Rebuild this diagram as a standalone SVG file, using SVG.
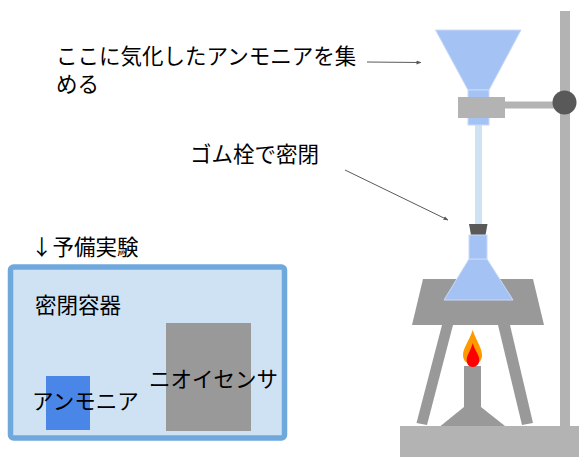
<svg xmlns="http://www.w3.org/2000/svg" width="579" height="457" viewBox="0 0 579 457">
  <defs>
    <marker id="arrow" viewBox="0 0 10 10" refX="9" refY="5" markerWidth="5" markerHeight="5" orient="auto">
      <path d="M0,1 L10,5 L0,9 z" fill="#595959"/>
    </marker>
    <style>
      .lbl { font-family: "Noto Sans CJK JP", "Liberation Sans", sans-serif; font-size: 21.5px; fill: #000; }
      .lead { stroke: #595959; stroke-width: 1; fill: none; }
      .stand { fill: #b3b3b3; }
      .metal { fill: #999999; }
      .glass { fill: #a4c2f4; stroke: #c9daf8; stroke-width: 1; }
    </style>
  </defs>
  <rect width="579" height="457" fill="#ffffff"/>

  <!-- retort stand -->
  <g id="stand">
    <rect class="stand" x="560" y="11" width="10" height="416"/>
    <rect class="stand" x="400" y="426" width="179" height="31"/>
    <rect class="stand" x="505" y="101.5" width="56" height="7"/>
    <circle cx="564.5" cy="102.5" r="12" fill="#595959"/>
  </g>

  <!-- funnel with clamp -->
  <g id="funnel">
    <rect x="475" y="124" width="7" height="101" fill="#cfe2f3"/>
    <polygon class="glass" points="435.5,30 521,30 489,90 468,90"/>
    <rect class="glass" x="468" y="90" width="21" height="35"/>
    <rect class="stand" x="458" y="97" width="47" height="21"/>
  </g>

  <!-- tripod -->
  <g id="tripod">
    <polygon class="metal" points="423,279 533,279 544,325 412,325"/>
    <polygon class="metal" points="442,325 453,325 427,425 416.5,423"/>
    <polygon class="metal" points="498,325 510,325 533,423 522,425"/>
  </g>

  <!-- flask with rubber stopper -->
  <g id="flask">
    <polygon points="469,224 487.5,224 485.5,235 471,235" fill="#595959"/>
    <polygon class="glass" points="469,259 487,259 513,300 444,300"/>
    <rect class="glass" x="469" y="235" width="18" height="24"/>
  </g>

  <!-- burner and flame -->
  <g id="burner">
    <rect class="metal" x="464" y="366" width="17" height="42"/>
    <polygon class="metal" points="464,407 481,407 505,426 440.5,426"/>
    <path d="M472.7,330 C476,340 482,348 482,355 C482,361 478,364.5 472.7,364.5 C467.4,364.5 463,361 463,355 C463,348 469.5,340 472.7,330 z" fill="#ff9900"/>
    <path d="M472.7,343 C474.5,350 479.3,355 479.3,360 C479.3,364 476.5,367 472.7,367 C468.9,367 466.7,364 466.7,360 C466.7,355 471,350 472.7,343 z" fill="#ff0000"/>
  </g>

  <!-- preliminary experiment: sealed container -->
  <g id="container">
    <rect x="10.5" y="267" width="274" height="171" rx="3" fill="#cfe2f3" stroke="#6fa8dc" stroke-width="5.5"/>
    <text class="lbl" x="35" y="313">密閉容器</text>
  </g>
  <g id="ammonia">
    <rect x="46" y="376" width="44" height="54" fill="#4a86e8"/>
    <text class="lbl" x="32" y="409">アンモニア</text>
  </g>
  <g id="sensor">
    <rect x="166" y="323" width="85" height="108" fill="#999999"/>
    <text class="lbl" x="149" y="387">ニオイセンサ</text>
  </g>

  <!-- annotations -->
  <g id="labels">
    <text class="lbl" x="56" y="64">ここに気化したアンモニアを集</text>
    <text class="lbl" x="56" y="92">める</text>
    <text class="lbl" x="190" y="162">ゴム栓で密閉</text>
    <text class="lbl" x="31" y="255">↓予備実験</text>
  </g>

  <g id="connectors">
    <line class="lead" x1="367" y1="62" x2="421" y2="62.5" marker-end="url(#arrow)"/>
    <line class="lead" x1="345" y1="170" x2="448" y2="220" marker-end="url(#arrow)"/>
  </g>
</svg>
